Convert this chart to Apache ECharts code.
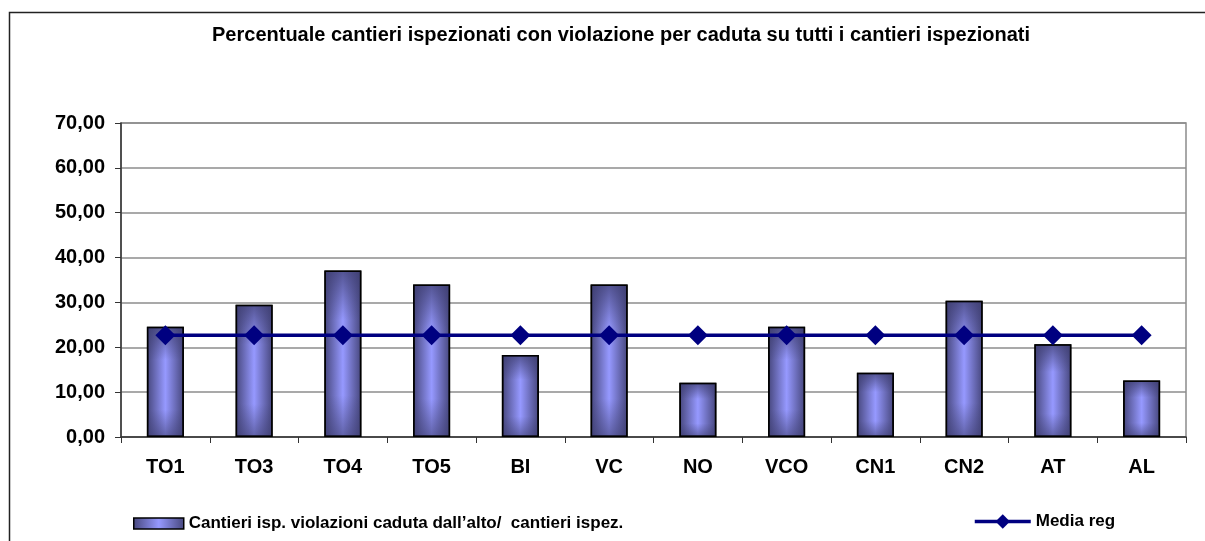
<!DOCTYPE html>
<html>
<head>
<meta charset="utf-8">
<script src="https://cdn.jsdelivr.net/npm/echarts@6/dist/echarts.min.js"></script>
<style>
  html, body { margin: 0; padding: 0; background: #fff; }
  #container { width: 1205px; height: 541px; }
</style>
</head>
<body>
<div id="container"></div>
<script>
var categories = ["TO1", "TO3", "TO4", "TO5", "BI", "VC", "NO", "VCO", "CN1", "CN2", "AT", "AL"];
var barValues = [24.6, 29.5, 37.1, 34.0, 18.3, 34.0, 12.1, 24.6, 14.3, 30.4, 20.7, 12.6];
var mediaValues = [22.7, 22.7, 22.7, 22.7, 22.7, 22.7, 22.7, 22.7, 22.7, 22.7, 22.7, 22.7];
var yTicks = [0, 10, 20, 30, 40, 50, 60, 70];

var barName = "Cantieri isp. violazioni caduta dall\u2019alto/  cantieri ispez.";
var lineName = "Media reg";
var font = "'Liberation Sans', Arial, sans-serif";

var dom = document.getElementById("container");
var myChart = echarts.init(dom);

var barFill = new echarts.graphic.LinearGradient(0, 0, 1, 0, [
  { offset: 0, color: "#46467c" },
  { offset: 0.5, color: "#9699ff" },
  { offset: 1, color: "#46467c" }
]);

var option = {
  backgroundColor: "#fff",
  animation: false,
  title: {
    text: "Percentuale cantieri ispezionati con violazione per caduta su tutti i cantieri ispezionati",
    left: 616,
    textAlign: "center",
    top: 20,
    textStyle: { fontFamily: font, fontSize: 20, fontWeight: "bold", color: "#000" }
  },
  graphic: [{
    type: "rect",
    shape: { x: 9.5, y: 12.5, width: 1300, height: 700 },
    style: { fill: "none", stroke: "#222", lineWidth: 1.5 },
    silent: true,
    z: -10
  }],
  legend: [{
    data: [{ name: barName, icon: "rect" }],
    left: 128,
    top: 510,
    itemWidth: 50,
    itemHeight: 11,
    itemGap: 4,
    itemStyle: { borderColor: "#000", borderWidth: 1.5 },
    textStyle: { fontFamily: font, fontSize: 17, fontWeight: "bold", color: "#000" }
  }, {
    data: [lineName],
    left: 968,
    top: 508,
    itemWidth: 56,
    itemHeight: 18,
    itemGap: 4,
    lineStyle: { width: 3.5 },
    textStyle: { fontFamily: font, fontSize: 17, fontWeight: "bold", color: "#000" }
  }],
  grid: {
    left: 121,
    right: 19,
    top: 123,
    bottom: 104,
    show: true,
    borderColor: "#8c8c8c",
    borderWidth: 1.5,
    backgroundColor: "#fff"
  },
  xAxis: {
    type: "category",
    data: categories,
    axisLine: { lineStyle: { color: "#333", width: 1.5 } },
    axisTick: { show: true, length: 6, lineStyle: { color: "#333" } },
    axisLabel: { fontFamily: font, fontSize: 20, fontWeight: "bold", color: "#000", margin: 20 }
  },
  yAxis: {
    type: "value",
    min: yTicks[0],
    max: yTicks[yTicks.length - 1],
    interval: 10,
    axisLine: { show: true, lineStyle: { color: "#333", width: 1.5 } },
    axisTick: { show: true, length: 6, lineStyle: { color: "#333" } },
    splitLine: { lineStyle: { color: "#8c8c8c", width: 1.5 } },
    axisLabel: {
      fontFamily: font, fontSize: 20, fontWeight: "bold", color: "#000", margin: 16,
      formatter: function (v) { return v.toFixed(2).replace(".", ","); }
    }
  },
  series: [{
    name: barName,
    type: "bar",
    data: barValues,
    barWidth: 37,
    barGap: "-100%",
    itemStyle: {
      color: barFill,
      borderColor: "#000",
      borderWidth: 1.5
    },
    z: 2
  }, {
    name: "shade",
    type: "bar",
    data: barValues,
    barWidth: 37,
    barGap: "-100%",
    silent: true,
    itemStyle: {
      color: new echarts.graphic.LinearGradient(0, 0, 0, 1, [
        { offset: 0, color: "rgba(60,60,110,0.75)" },
        { offset: 0.3, color: "rgba(60,60,110,0)" },
        { offset: 0.75, color: "rgba(60,60,110,0)" },
        { offset: 1, color: "rgba(60,60,110,0.6)" }
      ]),
      borderColor: "#000",
      borderWidth: 1.5
    },
    z: 3
  }, {
    name: lineName,
    type: "line",
    data: mediaValues,
    symbol: "diamond",
    symbolSize: 20,
    lineStyle: { color: "#000080", width: 3.5 },
    itemStyle: { color: "#000080" },
    z: 5
  }]
};

myChart.setOption(option);
</script>
</body>
</html>
